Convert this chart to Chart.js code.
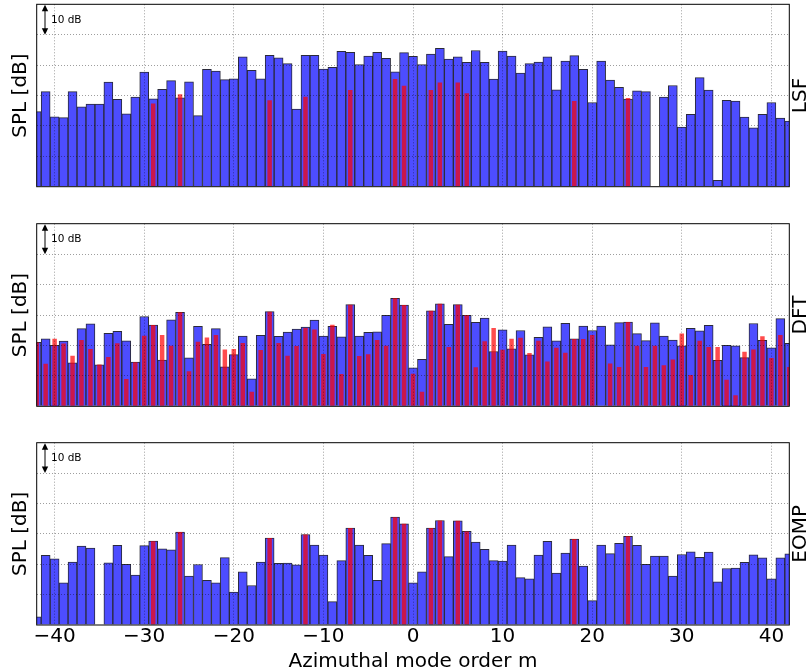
<!DOCTYPE html>
<html><head><meta charset="utf-8">
<script src="https://cdn.jsdelivr.net/npm/chart.js@4"></script>
<style>
html,body{margin:0;padding:0;background:#fff;}
body{width:808px;height:672px;position:relative;overflow:hidden;}
canvas{position:absolute;left:0;}
</style></head><body>
<canvas id="c1" width="808" height="200" style="top:0px"></canvas>
<canvas id="c2" width="808" height="200" style="top:218px"></canvas>
<canvas id="c3" width="808" height="235" style="top:437px"></canvas>
<script>
const modeOrders = [-42,-41,-40,-39,-38,-37,-36,-35,-34,-33,-32,-31,-30,-29,-28,-27,-26,-25,-24,-23,-22,-21,-20,-19,-18,-17,-16,-15,-14,-13,-12,-11,-10,-9,-8,-7,-6,-5,-4,-3,-2,-1,0,1,2,3,4,5,6,7,8,9,10,11,12,13,14,15,16,17,18,19,20,21,22,23,24,25,26,27,28,29,30,31,32,33,34,35,36,37,38,39,40,41,42];

const lsfLevels = [24.7,31.3,23.0,22.7,31.3,26.3,27.2,27.2,34.4,28.7,24.0,29.5,37.7,28.9,32.0,34.9,29.2,34.5,23.4,38.6,38.0,35.2,35.5,42.7,38.3,35.5,43.2,42.4,40.5,25.5,43.2,43.2,38.7,39.3,44.5,44.2,40.2,43.0,44.2,42.2,37.8,44.1,42.9,40.2,43.6,45.5,42.0,42.7,40.9,44.8,40.9,35.4,44.6,43.0,37.4,40.5,41.0,42.7,31.9,41.3,43.1,38.6,27.7,41.3,35.1,32.7,28.8,31.5,31.3,0,29.5,33.3,19.6,23.8,35.9,31.8,2.1,28.4,28.2,22.9,19.4,23.8,27.7,22.6,21.6];

const dftLevels = [21.0,22.2,20.0,21.4,14.3,25.5,27.1,13.6,24.0,24.6,21.5,14.5,29.5,26.7,15.2,28.4,30.9,15.9,26.3,20.4,25.5,13.0,17.0,23.1,9.0,23.3,31.1,23.0,24.4,25.4,26.0,28.3,23.1,26.3,22.8,33.4,23.1,24.3,24.5,29.9,35.5,33.3,12.6,15.4,31.4,33.7,26.9,33.4,29.9,27.6,29.0,18.0,25.1,18.9,24.9,16.9,22.7,26.1,21.5,27.3,22.2,26.4,24.9,26.4,20.2,27.5,27.7,23.9,21.6,27.4,23.1,21.8,19.9,25.6,24.8,26.6,15.1,20.0,19.9,16.0,27.2,21.7,19.2,28.8,20.7];

const dftTrueLevels = [21.0,14.0,22.2,20.6,16.6,21.8,18.8,13.7,16.2,20.7,9.0,14.5,23.2,26.7,23.4,19.9,30.9,11.5,21.2,22.6,23.4,18.7,18.8,20.8,4.8,18.5,31.1,20.8,16.6,19.8,25.7,25.2,17.2,26.8,10.6,33.4,16.5,17.1,21.8,19.9,35.5,33.3,10.7,4.8,31.4,33.7,19.5,33.4,29.9,12.8,21.4,25.7,18.6,22.2,22.5,17.5,21.5,14.7,19.2,17.6,22.1,22.1,23.4,null,14.1,12.9,27.7,19.9,12.9,19.9,13.5,15.4,23.9,10.3,21.5,19.5,19.5,8.7,3.6,17.9,18.7,23.0,15.9,23.4,12.9];

const eompLevels = [2.7,22.9,21.8,13.9,20.7,26.0,25.3,0,20.5,26.2,20.0,16.4,26.1,27.6,25.1,24.7,30.6,16.1,19.9,14.7,13.9,22.2,10.8,17.5,13.0,20.7,28.6,20.3,20.4,19.8,29.8,26.3,23.0,7.7,21.2,31.9,26.3,22.9,14.7,26.8,35.5,33.3,13.9,17.5,31.9,34.4,22.5,34.3,30.8,27.3,24.9,21.2,21.0,26.3,15.6,15.2,23.0,27.5,17.1,23.7,28.3,19.4,8.0,26.3,23.5,26.9,29.2,26.2,20.0,22.7,22.7,16.1,23.2,24.1,22.3,24.0,14.2,18.6,18.7,20.6,23.1,22.1,15.2,22.1,23.4];

const peakModes = [-29,-26,-16,-12,-7,-2,-1,2,3,5,6,18,24];
const lsfPeakLevels = [27.4,30.4,28.4,29.6,31.8,35.4,33.2,31.8,34.3,34.3,30.7,28.2,29.2];
const eompPeakLevels = [27.6,30.6,28.6,29.8,31.9,35.5,33.3,31.9,34.4,34.3,30.8,28.3,29.2];

const xTickValues = [-40,-30,-20,-10,0,10,20,30,40];
const yTickValues = [0,10,20,30,40,50,60];
const panelLabels = ['LSF','DFT','EOMP'];
const yAxisLabel = 'SPL [dB]';
const xAxisLabel = 'Azimuthal mode order m';
const scaleBarLabel = '10 dB';

const FONT = '"DejaVu Sans", "Liberation Sans", sans-serif';

const decor = {
  id: 'decor',
  afterDraw(chart, args, o) {
    const {ctx, chartArea: a, scales: {y}} = chart;
    ctx.save();
    ctx.strokeStyle = '#000';
    ctx.lineWidth = 1;
    ctx.strokeRect(a.left, a.top, a.right - a.left, a.bottom - a.top);
    // 10 dB scale arrow
    const ax = a.left + 8.3;
    const y0 = y.getPixelForValue(60), y1 = y.getPixelForValue(50);
    ctx.beginPath(); ctx.moveTo(ax, y0 + 5); ctx.lineTo(ax, y1 - 5); ctx.stroke();
    ctx.fillStyle = '#000';
    ctx.beginPath(); ctx.moveTo(ax, y0 + 0.5); ctx.lineTo(ax - 3.2, y0 + 7); ctx.lineTo(ax + 3.2, y0 + 7); ctx.closePath(); ctx.fill();
    ctx.beginPath(); ctx.moveTo(ax, y1); ctx.lineTo(ax - 3.2, y1 - 6.5); ctx.lineTo(ax + 3.2, y1 - 6.5); ctx.closePath(); ctx.fill();
    ctx.font = '10.5px ' + FONT;
    ctx.textAlign = 'left'; ctx.textBaseline = 'middle';
    ctx.fillText(scaleBarLabel, ax + 6, (y0 + y1) / 2 + 0.5);
    // left label
    ctx.font = '20px ' + FONT;
    ctx.textAlign = 'center'; ctx.textBaseline = 'middle';
    ctx.save();
    ctx.translate(21, (a.top + a.bottom) / 2);
    ctx.rotate(-Math.PI / 2);
    ctx.fillText(yAxisLabel, 0, 0);
    ctx.restore();
    // right label
    ctx.save();
    ctx.translate(a.right + 11, (a.top + a.bottom) / 2);
    ctx.rotate(-Math.PI / 2);
    ctx.fillText(o.label, 0, 0);
    ctx.restore();
    if (o.showX) {
      ctx.textBaseline = 'alphabetic';
      ctx.fillText(xAxisLabel, (a.left + a.right) / 2, a.bottom + 42);
    }
    ctx.restore();
  }
};

const GRID = 'rgba(0,0,0,0.38)';

function makeChart(id, blue, redModes, redLevels, label, showX, padTop, padBottom) {
  const bluePts = modeOrders.map((m, i) => ({x: m, y: blue[i]}));
  const redPts = redModes.map((m, i) => ({x: m, y: redLevels[i]})).filter(p => p.y !== null);
  new Chart(document.getElementById(id), {
    type: 'bar',
    data: {
      datasets: [
        {data: redPts, backgroundColor: 'rgba(255,0,0,0.7)', borderWidth: 0,
         barPercentage: 0.5, categoryPercentage: 1, grouped: false, order: 0},
        {data: bluePts, backgroundColor: '#4d4dff', borderColor: '#2a2a3a',
         borderWidth: 1, barPercentage: 1, categoryPercentage: 1, grouped: false, order: 1}
      ]
    },
    options: {
      responsive: false, animation: false, events: [],
      layout: {padding: {left: 36.7, right: 18.7, top: padTop, bottom: padBottom}},
      plugins: {legend: {display: false}, tooltip: {enabled: false}, decor: {label, showX}},
      scales: {
        x: {
          type: 'linear', min: -42, max: 42, offset: false,
          afterBuildTicks: s => { s.ticks = xTickValues.map(v => ({value: v})); },
          afterFit: s => { s.height = showX ? 47 : 0; },
          grid: {color: GRID, lineWidth: 1, drawTicks: false, offset: false, z: 1},
          border: {display: false, dash: [1, 2]},
          ticks: {display: showX, color: '#000', padding: 0, font: {family: FONT, size: 20},
                  maxRotation: 0, autoSkip: false,
                  callback: v => (v < 0 ? '\u2212' + Math.abs(v) : '' + v)}
        },
        y: {
          min: 0, max: 60,
          afterBuildTicks: s => { s.ticks = yTickValues.map(v => ({value: v})); },
          afterFit: s => { s.width = 0; },
          grid: {color: c => (c.tick && (c.tick.value === 0 || c.tick.value === 60)) ? 'rgba(0,0,0,0)' : GRID,
                 lineWidth: 1, drawTicks: false, z: 1},
          border: {display: false, dash: [1, 2]},
          ticks: {display: false}
        }
      }
    },
    plugins: [decor]
  });
}

makeChart('c1', lsfLevels, peakModes, lsfPeakLevels, panelLabels[0], false, 4.3, 13.3);
makeChart('c2', dftLevels, modeOrders, dftTrueLevels, panelLabels[1], false, 5.7, 11.7);
makeChart('c3', eompLevels, peakModes, eompPeakLevels, panelLabels[2], true, 5.7, 0);
</script>
</body></html>
